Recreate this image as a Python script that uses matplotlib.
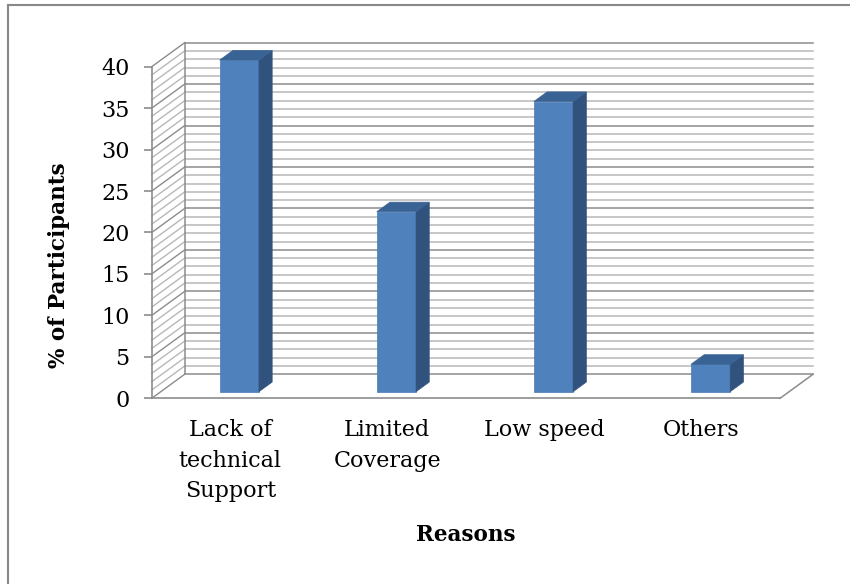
import numpy as np
import matplotlib.pyplot as plt
from matplotlib.patches import Polygon
from matplotlib.lines import Line2D

# Reasons and share of participants (%)
reasons = ['Lack of\ntechnical\nSupport', 'Limited\nCoverage', 'Low speed', 'Others']
percent = [40, 21.7, 35, 3.3]
y_ticks = [0, 5, 10, 15, 20, 25, 30, 35, 40]

plt.rcParams['font.family'] = ['DejaVu Serif']

fig = plt.figure(figsize=(8.5, 5.84), dpi=100)
ax = fig.add_axes([0.1785, 0.318, 0.7392, 0.5678])

x = np.arange(1, len(percent) + 1)
ax.set_xlim(0.5, len(percent) + 0.5)
ax.set_ylim(0, 40)

# depth of the 3D box in data units (x shift, y shift)
dx, dy = 0.21, 2.9
x0, x1 = 0.5, len(percent) + 0.5

minor_col = '#b8b8b8'
major_col = '#8c8c8c'

# back wall and left side wall with gridlines
for v in range(0, 41):
    col = major_col if v % 5 == 0 else minor_col
    ax.plot([x0 + dx, x1 + dx], [v + dy, v + dy], color=col, lw=1.1,
            clip_on=False, zorder=1)
    ax.plot([x0, x0 + dx], [v, v + dy], color=col, lw=1.0,
            clip_on=False, zorder=1)
ax.plot([x0 + dx, x0 + dx], [dy, 40 + dy], color=major_col, lw=1.1,
        clip_on=False, zorder=1)

# floor outline
ax.plot([x1, x1 + dx], [0, dy], color=major_col, lw=1.1, clip_on=False, zorder=1)

# bars: front face from ax.bar, side and top faces as polygons
front_off = 0.275
depth = 0.4
w = 0.25
bx = x + front_off * dx
by = front_off * dy
bars = ax.bar(bx, percent, width=w, bottom=by, color='#4f81bd',
              edgecolor='#4a7ab4', lw=0.5, zorder=3, clip_on=False)
for xi, v in zip(bx, percent):
    left, right = xi - w / 2, xi + w / 2
    top = v + by
    side = Polygon([(right, by), (right, top),
                    (right + depth * dx, top + depth * dy),
                    (right + depth * dx, by + depth * dy)],
                   closed=True, facecolor='#31527d', edgecolor='#31527d',
                   lw=0.5, zorder=3, clip_on=False)
    lid = Polygon([(left, top), (right, top),
                   (right + depth * dx, top + depth * dy),
                   (left + depth * dx, top + depth * dy)],
                  closed=True, facecolor='#3a6395', edgecolor='#3a6395',
                  lw=0.5, zorder=3, clip_on=False)
    ax.add_patch(side)
    ax.add_patch(lid)

# axes lines
for s in ['top', 'right']:
    ax.spines[s].set_visible(False)
for s in ['left', 'bottom']:
    ax.spines[s].set_color(major_col)
    ax.spines[s].set_linewidth(1.2)
    ax.spines[s].set_zorder(2)

ax.set_yticks(y_ticks)
ax.tick_params(axis='y', length=6, width=1.2, color=major_col, pad=10,
               labelsize=16)
ax.set_xticks(x)
ax.set_xticklabels(reasons, fontsize=16, linespacing=1.5, va='top')
ax.tick_params(axis='x', length=0, pad=15)

ax.set_ylabel('% of Participants', fontsize=15.5, fontweight='bold', va='center')
ax.yaxis.set_label_coords(-0.148, 0.402)
ax.set_xlabel('Reasons', fontsize=15.5, fontweight='bold', va='center')
ax.xaxis.set_label_coords(0.5, -0.412)
ax.patch.set_visible(False)

# chart area border (left and top)
fig.add_artist(Line2D([8 / 850, 8 / 850], [0, 1 - 5 / 584], color='#888888',
                      lw=1.5, transform=fig.transFigure))
fig.add_artist(Line2D([8 / 850, 1], [1 - 5 / 584, 1 - 5 / 584], color='#888888',
                      lw=1.5, transform=fig.transFigure))

fig.savefig('out.png', dpi=100)
